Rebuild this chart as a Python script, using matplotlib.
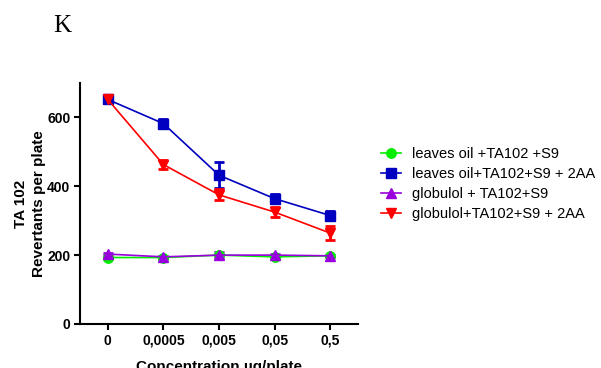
import matplotlib
matplotlib.use("Agg")
import matplotlib.pyplot as plt
import numpy as np

plt.rcParams['font.family'] = ['Liberation Sans', 'DejaVu Sans']

categories = ["0", "0,0005", "0,005", "0,05", "0,5"]
leaves_s9 = [193, 193, 200, 195, 198]
leaves_s9_err = [3, 3, 4, 3, 3]
leaves_2aa = [652, 582, 432, 364, 315]
leaves_2aa_err = [6, 14, 38, 14, 14]
glob_s9 = [203, 195, 200, 200, 198]
glob_s9_err = [3, 3, 9, 4, 3]
glob_2aa = [652, 463, 375, 325, 264]
glob_2aa_err = [5, 14, 16, 15, 21]

series = [
    ("leaves oil +TA102 +S9", leaves_s9, leaves_s9_err, "#00ee00", "o"),
    ("leaves oil+TA102+S9 + 2AA", leaves_2aa, leaves_2aa_err, "#0000c0", "s"),
    ("globulol + TA102+S9", glob_s9, glob_s9_err, "#9900dd", "^"),
    ("globulol+TA102+S9 + 2AA", glob_2aa, glob_2aa_err, "#ff0000", "v"),
]

fig = plt.figure(figsize=(6.01, 3.68), dpi=100)
ax = fig.add_axes([0.1331, 0.1196, 0.4626, 0.655])
x = np.arange(len(categories))
handles = []
labels = []
for label, y, e, c, m in series:
    cont = ax.errorbar(x, y, yerr=e, color=c, marker=m, markersize=6.8, lw=1.2,
                       capsize=3.3, capthick=2, elinewidth=2)
    handles.append(cont[0])
    labels.append(label)

ax.set_xlim(-0.5, 4.5)
ax.set_ylim(0, 700)
ax.set_yticks([0, 200, 400, 600])
ax.set_xticks(x)
ax.set_xticklabels(categories)
for s in ["top", "right"]:
    ax.spines[s].set_visible(False)
for s in ["left", "bottom"]:
    ax.spines[s].set_linewidth(1.5)
ax.tick_params(width=1.5, length=4, labelsize=10, pad=3)
for t in ax.get_xticklabels() + ax.get_yticklabels():
    t.set_fontweight("bold")
ax.set_ylabel("TA 102\nRevertants per plate", fontsize=11, fontweight="bold", labelpad=1,
              linespacing=1.3)
ax.set_xlabel("Concentration µg/plate", fontsize=11, fontweight="bold", labelpad=9)

ax.legend(handles, labels, loc="upper left", bbox_to_anchor=(1.034, 0.79), frameon=False,
          fontsize=10.5, handlelength=1.4, handletextpad=0.75, labelspacing=0.42)
fig.text(0.103, 0.93, "K", fontsize=18, family="Liberation Serif", ha="center", va="center")

fig.savefig("out.png", dpi=100)
